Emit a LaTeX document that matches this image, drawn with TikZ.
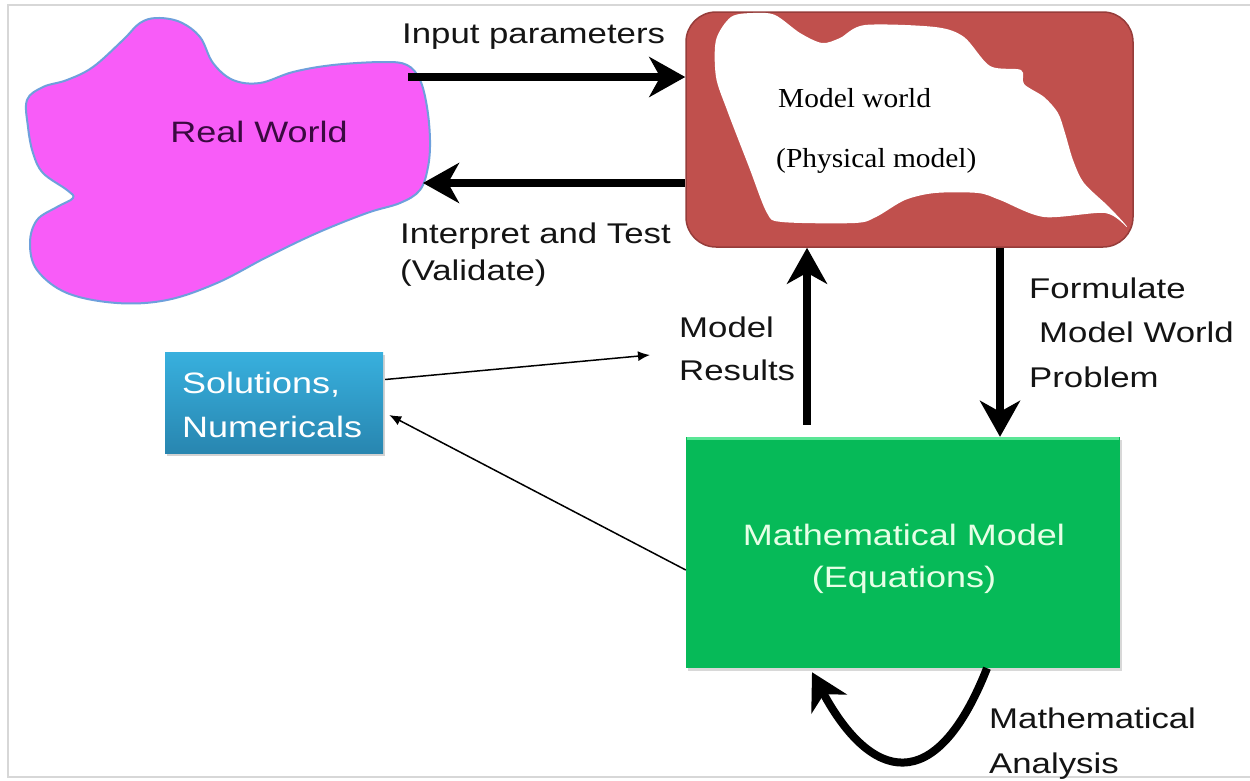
\documentclass[tikz,border=0pt]{standalone}
\usepackage{fontspec}
\usetikzlibrary{arrows.meta,shadows,calc}
\newfontfamily\arialS[FakeStretch=1.22]{Liberation Sans}
\newfontfamily\timesS[FakeStretch=1.07]{Liberation Serif}
\definecolor{rwfill}{RGB}{248,92,248}
\definecolor{rwline}{RGB}{110,160,220}
\definecolor{rwtext}{RGB}{58,10,64}
\definecolor{mfill}{RGB}{192,80,77}
\definecolor{mline}{RGB}{150,60,58}
\definecolor{gfill}{RGB}{6,186,88}
\definecolor{gtop}{RGB}{90,230,150}
\definecolor{gtext}{RGB}{230,255,230}
\definecolor{soltop}{RGB}{56,176,222}
\definecolor{solbot}{RGB}{40,134,176}
\definecolor{txt}{RGB}{20,20,20}
\definecolor{framec}{RGB}{215,215,215}
\begin{document}
\begin{tikzpicture}[x=1pt,y=-1pt,
  lbl/.style={anchor=base west,inner sep=0pt,text=txt,font=\arialS\fontsize{28.5}{34}\selectfont},
  boxtxt/.style={anchor=base,inner sep=0pt,text=gtext,font=\arialS\fontsize{29.5}{34}\selectfont},
  soltxt/.style={anchor=base west,inner sep=0pt,text=white,font=\arialS\fontsize{29.5}{34}\selectfont},
  mwtxt/.style={anchor=base west,inner sep=0pt,text=black,font=\timesS\fontsize{27.5}{34}\selectfont},
  bigarrow/.style={line width=8pt,-{Stealth[length=36pt,width=40pt,inset=11pt]}},
  thinarrow/.style={line width=1.5pt,-{Latex[length=12pt,width=10pt]}},
  modelbox/.style={draw=mline,line width=1.5pt,fill=mfill,rounded corners=30pt,minimum width=447pt,minimum height=235pt,inner sep=0pt},
  mathbox/.style={fill=gfill,minimum width=434pt,minimum height=231pt,inner sep=0pt,drop shadow={opacity=0.3,shadow xshift=2pt,shadow yshift=-3pt}},
  solbox/.style={top color=soltop,bottom color=solbot,minimum width=218pt,minimum height=101pt,inner sep=0pt,drop shadow={opacity=0.35,shadow xshift=2pt,shadow yshift=-3pt}}
]
\useasboundingbox (0,0) rectangle (1250,780);
\fill[white] (0,0) rectangle (1250,780);
\draw[framec,line width=2pt] (8,5) rectangle (1262,777);

% Real world blob
\draw[rwline,line width=2pt,fill=rwfill] plot[smooth cycle,tension=0.6] coordinates {
 (157,18) (180,22) (200,37) (213,63) (233,80) (260,83) (293,72) (333,65) (383,62) (407,65)
 (420,80) (427,107) (430,140) (428,167) (420,190) (400,203) (367,213) (317,233) (267,257)
 (217,283) (167,300) (117,303) (67,293) (37,270) (30,243) (37,220) (57,207) (73,198)
 (67,190) (43,173) (33,153) (28,127) (27,100) (43,87) (67,80) (93,67) (123,40) (140,23)};
\node[boxtxt,text=rwtext] (rwt) at (259,142) {Real World};

% Model world box
\node[modelbox] (model) at (909.5,129.5) {};
\fill[white] plot[smooth cycle,tension=0.5] coordinates {
 (716,40) (731,17) (753,13) (775,15) (800,33) (822,43) (840,38) (865,25) (935,27) (964,37)
 (990,66) (1021,70) (1024,84) (1044,97) (1058,113) (1065,133) (1073,160) (1084,183) (1109,207)
 (1127,227) (1105,213) (1044,217) (1000,200) (978,193) (935,193) (905,200) (876,217) (855,223)
 (782,222) (767,213) (749,167) (727,110) (716,77)};
\node[mwtxt] (mw1) at (778,107) {Model world};
\node[mwtxt] (mw2) at (776,167) {(Physical model)};

% Mathematical model box
\node[mathbox] (math) at (903,552.5) {};
\draw[gtop,line width=3pt] ($(math.north west)+(1.5,1.5)$) -- ($(math.north east)+(-1.5,1.5)$);
\node[boxtxt] (mm1) at (904,545) {Mathematical Model};
\node[boxtxt] (mm2) at (904,587) {(Equations)};

% Solutions box
\node[solbox] (sol) at (274,402.5) {};
\node[soltxt] (s1) at (182,393) {Solutions,};
\node[soltxt] (s2) at (182,437) {Numericals};

% labels
\node[lbl] (tin) at (402,43) {Input parameters};
\node[lbl] (tint1) at (400,243) {Interpret and Test};
\node[lbl] (tint2) at (400,280) {(Validate)};
\node[lbl] (tmr1) at (679,337) {Model};
\node[lbl] (tmr2) at (679,380) {Results};
\node[lbl] (tf1) at (1029,298) {Formulate};
\node[lbl] (tf2) at (1039,342) {Model World};
\node[lbl] (tf3) at (1029,387) {Problem};
\node[lbl] (tma1) at (989,728) {Mathematical};
\node[lbl] (tma2) at (989,773) {Analysis};

% connectors
\coordinate (rwA) at (408,77);
\coordinate (rwB) at (423,183);
\coordinate (upx) at (807,0);
\coordinate (dnx) at (1000,0);
\draw[bigarrow] (rwA) -- (rwA -| model.west);
\draw[bigarrow] (rwB -| model.west) -- (rwB);
\draw[bigarrow] ($(math.north -| upx)+(0,-12)$) -- (model.south -| upx);
\draw[bigarrow] (model.south -| dnx) -- (math.north -| dnx);
\draw[bigarrow] ($(math.south)+(84,0)$) .. controls (935,800) and (870,780) .. ($(math.south)+(-91,4)$);
\draw[thinarrow] ($(sol.east)+(2,-23)$) -- ($(tmr1.base west)+(-29,18)$);
\draw[thinarrow] ($(math.west)+(0,17.5)$) -- ($(sol.east)+(6,12.5)$);
\end{tikzpicture}
\end{document}
